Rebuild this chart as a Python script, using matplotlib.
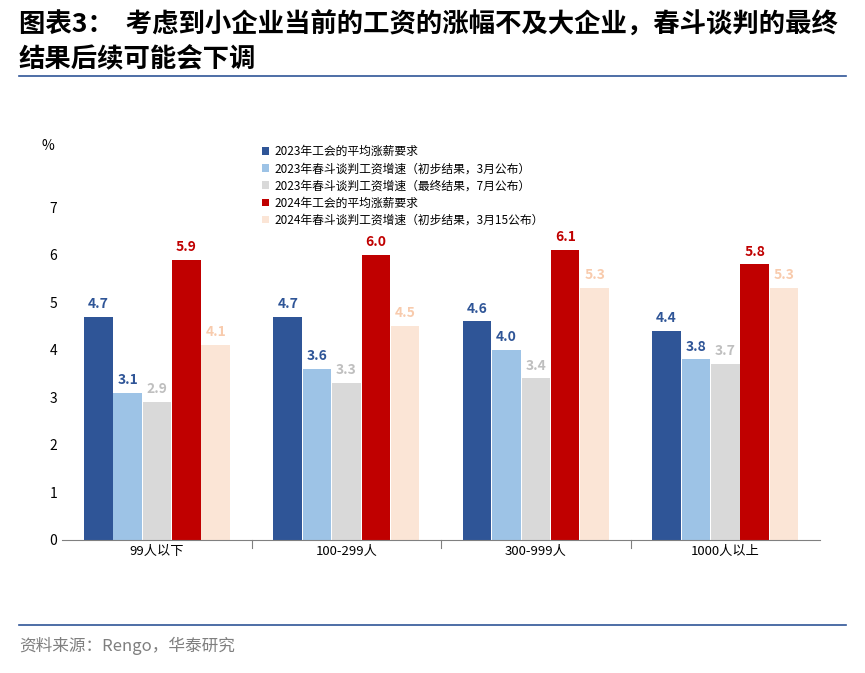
import matplotlib
matplotlib.use("Agg")
import matplotlib.pyplot as plt
import numpy as np

plt.rcParams["font.family"] = ["Noto Sans CJK SC", "DejaVu Sans"]

categories = ["99人以下", "100-299人", "300-999人", "1000人以上"]
series_names = [
    "2023年工会的平均涨薪要求",
    "2023年春斗谈判工资增速（初步结果，3月公布）",
    "2023年春斗谈判工资增速（最终结果，7月公布）",
    "2024年工会的平均涨薪要求",
    "2024年春斗谈判工资增速（初步结果，3月15公布）",
]
values = [
    [4.7, 4.7, 4.6, 4.4],
    [3.1, 3.6, 4.0, 3.8],
    [2.9, 3.3, 3.4, 3.7],
    [5.9, 6.0, 6.1, 5.8],
    [4.1, 4.5, 5.3, 5.3],
]
bar_colors = ["#2F5597", "#9DC3E6", "#D9D9D9", "#C00000", "#FBE5D6"]
label_colors = ["#2F5597", "#2F5597", "#BFBFBF", "#C00000", "#F8CBAD"]

fig = plt.figure(figsize=(8.65, 6.73), dpi=100)
ax = fig.add_axes([0.072, 0.198, 0.876, 0.494])

x = np.arange(len(categories))
w = 0.155
for i, (vals, c, lc, name) in enumerate(zip(values, bar_colors, label_colors, series_names)):
    pos = x + (i - 2) * w
    ax.bar(pos, vals, width=w * 0.97, color=c, label=name)
    for p, v in zip(pos, vals):
        ax.text(p, v + 0.12, f"{v:.1f}", ha="center", va="bottom", fontsize=10,
                fontweight="bold", color=lc)

ax.set_ylim(0, 7)
ax.set_xlim(-0.5, 3.5)
ax.set_yticks(range(8))
ax.set_xticks(x)
ax.set_xticklabels(categories, fontsize=9.5)
ax.tick_params(axis="y", labelsize=10, length=0)
ax.tick_params(axis="x", length=0)
for s in ["top", "right", "left"]:
    ax.spines[s].set_visible(False)
ax.spines["bottom"].set_color("#808080")
for b in [0.5, 1.5, 2.5]:
    ax.plot([b, b], [0, -0.18], color="#808080", lw=0.8, clip_on=False)

ax.legend(loc="lower left", bbox_to_anchor=(0.25, 0.91), fontsize=8.5, frameon=False,
          handlelength=0.6, handleheight=0.6, handletextpad=0.4, labelspacing=0.35)

fig.text(0.048, 0.777, "%", fontsize=10)
fig.text(0.022, 0.963, "图表3：  考虑到小企业当前的工资的涨幅不及大企业，春斗谈判的最终",
         fontsize=19, fontweight="bold", va="center")
fig.text(0.022, 0.913, "结果后续可能会下调", fontsize=19, fontweight="bold", va="center")
fig.add_artist(plt.Line2D([0.022, 0.978], [0.887, 0.887], color="#2F5597", lw=1.2))
fig.add_artist(plt.Line2D([0.022, 0.978], [0.071, 0.071], color="#2F5597", lw=1.2))
fig.text(0.022, 0.04, "资料来源：Rengo，华泰研究", fontsize=12, color="#7F7F7F", va="center")

fig.savefig("out.png", dpi=100, facecolor="white")
